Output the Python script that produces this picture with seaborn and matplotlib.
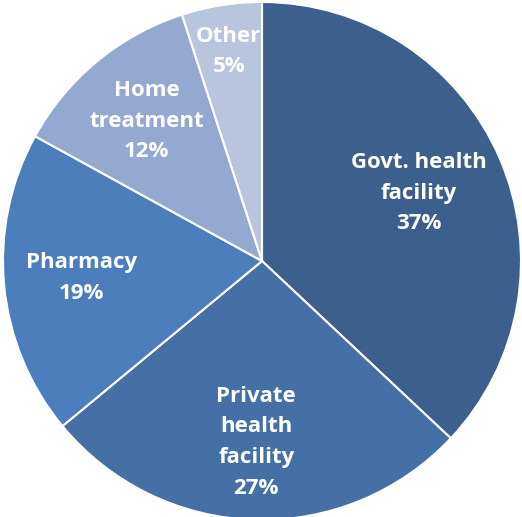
import matplotlib
matplotlib.use("Agg")
import matplotlib.pyplot as plt
import seaborn as sns

sns.set_theme(style="white")
plt.rcParams['font.family'] = ['Open Sans', 'DejaVu Sans']

categories = ["Govt. health\nfacility", "Private\nhealth\nfacility", "Pharmacy",
              "Home\ntreatment", "Other"]
shares = [37, 27, 19, 12, 5]
colors = ["#3C5F8D", "#4470A6", "#4C7EBB", "#94A9CF", "#B8C5DF"]
# radial nudges so the labels sit where the original puts them
label_scale = [0.94, 1.0, 1.0, 1.0, 1.17]

fig = plt.figure(figsize=(5.22, 5.17), dpi=100)
ax = fig.add_axes([0, 0, 1, 1])

wedges, texts = ax.pie(shares, colors=colors, startangle=90, counterclock=False,
                       radius=1, labels=[f"{c}\n{v}%" for c, v in zip(categories, shares)],
                       labeldistance=0.7,
                       wedgeprops=dict(edgecolor="white", linewidth=1.5))
for t, s in zip(texts, label_scale):
    t.set_color("white")
    t.set_fontweight("bold")
    t.set_fontsize(16)
    t.set_ha("center")
    t.set_va("center")
    t.set_linespacing(1.6)
    x, y = t.get_position()
    t.set_position((x * s, y * s))

r = 259
ax.set_xlim(-262 / r, (522 - 262) / r)
ax.set_ylim(-(517 - 261) / r, 261 / r)
ax.set_aspect("equal")
ax.axis("off")

fig.savefig("out.png", dpi=100)
